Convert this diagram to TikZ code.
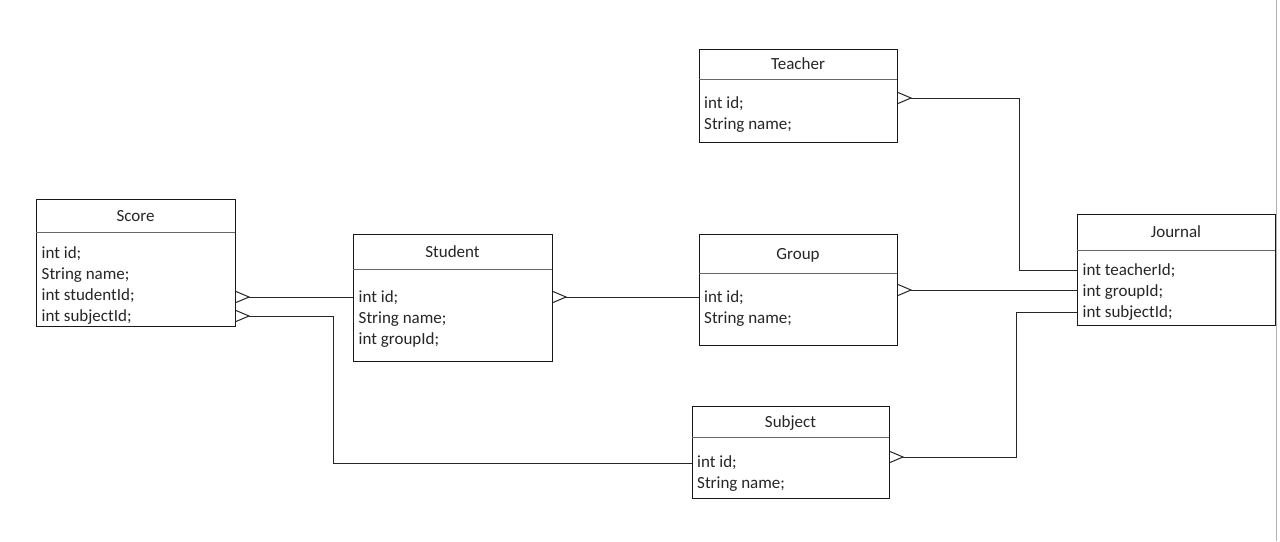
\documentclass[tikz,border=0pt]{standalone}
\usepackage{fontspec}
\setmainfont{Carlito}
\usetikzlibrary{calc}
\newcommand\erbox[7]{% name, x1, y1, x2, ydiv, y2, title
  \node[erframe, minimum width={#4-#2}, minimum height={#6-#3}] (#1) at (#2,#3) {};
  \draw[divline] (#2,#5) -- (#4,#5);
  \node[ertitle] (#1T) at ({(#2+#4)/2},{(#3+#5)/2+5.5}) {#7};
}
\newcommand\crowfoot[1]{\draw[conn] (#1) ++(0,-5.5) -- ++(13,5.5) -- ++(-13,5.5);}
\begin{document}
\begin{tikzpicture}[x=1pt,y=-1pt,
  erframe/.style={draw=black!90, line width=1pt, anchor=north west, inner sep=0pt, fill=white},
  divline/.style={draw=black!60, line width=1pt},
  ertitle/.style={anchor=base, inner sep=0pt, text=black!85, font=\fontsize{17}{21}\selectfont},
  attr/.style={anchor=base west, inner sep=0pt, text=black!85, font=\fontsize{17}{21}\selectfont},
  conn/.style={draw=black!85, line width=1pt},
  pageedge/.style={draw=black!30, line width=1.5pt}]
\useasboundingbox (0,0) rectangle (1280,541);
\fill[white] (0,0) rectangle (1280,541);
\draw[pageedge] (1276.5,0) -- (1276.5,541);

% Score
\erbox{score}{36}{199}{235}{232}{326}{Score}
\node[attr] (scoreA) at (41.5,258) {int id;};
\node[attr] (scoreB) at (41.5,279) {String name;};
\node[attr] (scoreC) at (41.5,300) {int studentId;};
\node[attr] (scoreD) at (41.5,321) {int subjectId;};

% Student
\erbox{student}{353}{234}{552}{269}{361}{Student}
\node[attr] (studentA) at (358.5,302) {int id;};
\node[attr] (studentB) at (358.5,323) {String name;};
\node[attr] (studentC) at (358.5,344) {int groupId;};

% Group
\erbox{group}{699}{234}{897}{273}{345}{Group}
\node[attr] (groupA) at (704,302) {int id;};
\node[attr] (groupB) at (704,323) {String name;};

% Teacher
\erbox{teacher}{699}{49}{897}{79}{142}{Teacher}
\node[attr] (teacherA) at (704,108) {int id;};
\node[attr] (teacherB) at (704,129) {String name;};

% Journal
\erbox{journal}{1077}{214}{1275}{250}{325}{Journal}
\node[attr] (journalA) at (1082.5,275) {int teacherId;};
\node[attr] (journalB) at (1082.5,296) {int groupId;};
\node[attr] (journalC) at (1082.5,317) {int subjectId;};

% Subject
\erbox{subject}{692}{406}{889}{437}{498}{Subject}
\node[attr] (subjectA) at (697,467) {int id;};
\node[attr] (subjectB) at (697,488) {String name;};

% connection points
\coordinate (p1) at (score.east |- 0,297);
\coordinate (p2) at (score.east |- 0,316);
\coordinate (p3) at (student.east |- 0,297);
\coordinate (p4) at (teacher.east |- 0,98);
\coordinate (p5) at (group.east |- 0,290);
\coordinate (p6) at (subject.east |- 0,457);
\coordinate (b2) at (333,316);
\coordinate (b4) at (1019,98);
\coordinate (b6) at (1016,457);

\crowfoot{p1}
\crowfoot{p2}
\crowfoot{p3}
\crowfoot{p4}
\crowfoot{p5}
\crowfoot{p6}

\draw[conn] (p1) ++(13,0) -- (student.west |- p1);
\draw[conn] (p2) ++(13,0) -- (b2) |- (subject.west |- 0,463);
\draw[conn] (p3) ++(13,0) -- (group.west |- p3);
\draw[conn] (p4) ++(13,0) -- (b4) |- (journal.west |- 0,270);
\draw[conn] (p5) ++(13,0) -- (journal.west |- p5);
\draw[conn] (p6) ++(13,0) -- (b6) |- (journal.west |- 0,312);
\end{tikzpicture}
\end{document}
